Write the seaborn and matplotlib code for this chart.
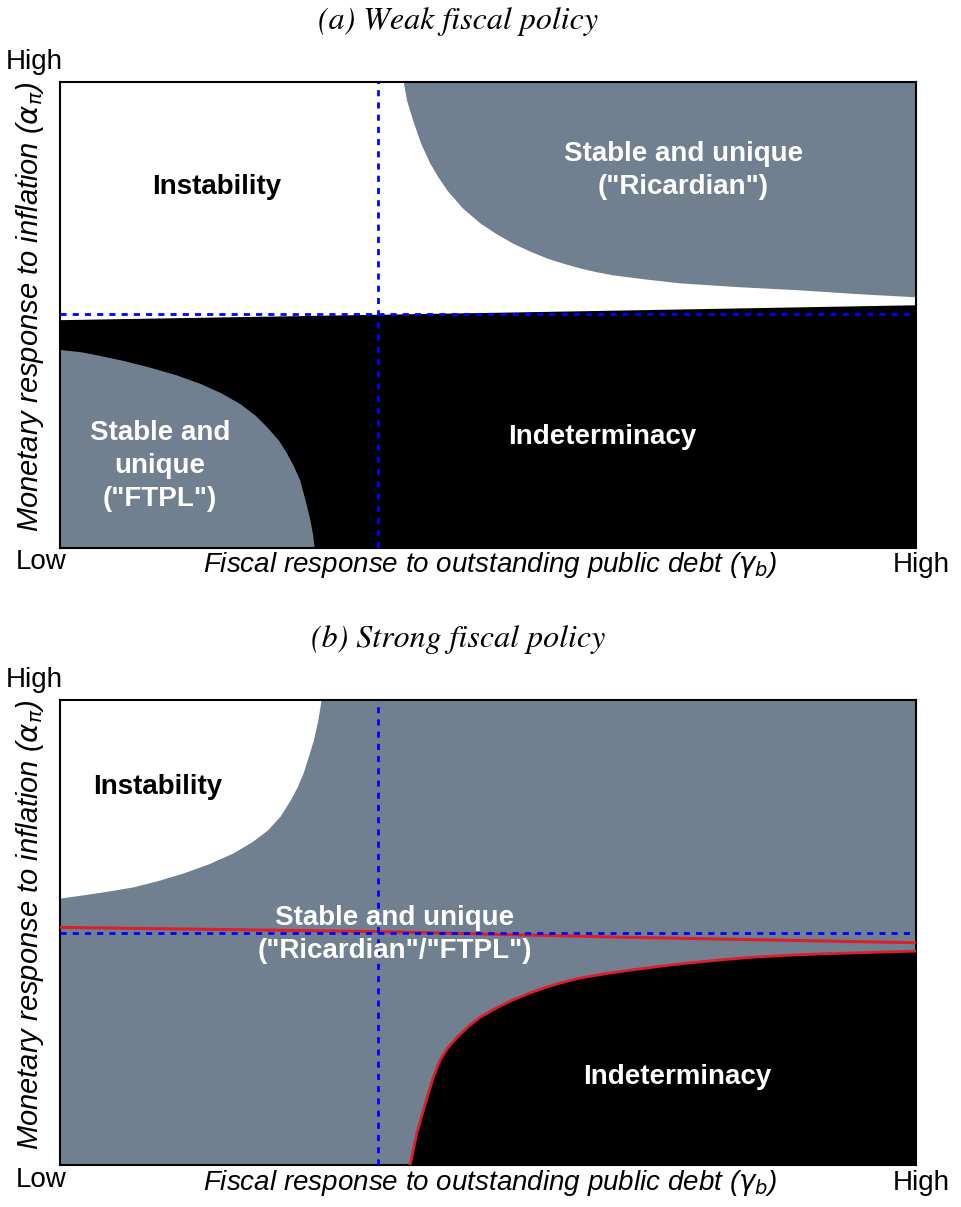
import matplotlib
matplotlib.use("Agg")
import matplotlib.pyplot as plt
import seaborn as sns

# ---- data (axes run 0..1, "Low" to "High") ----
# panel (a): weak fiscal policy
a_indet_top_x = [0.0, 0.514, 1.0]
a_indet_top_y = [0.490, 0.506, 0.522]

a_ftpl_x = [0.0, 0.025, 0.047, 0.075, 0.105, 0.135, 0.164, 0.188, 0.210, 0.228,
            0.242, 0.255, 0.265, 0.273, 0.280, 0.286, 0.292, 0.295, 0.297]
a_ftpl_y = [0.426, 0.421, 0.413, 0.402, 0.388, 0.372, 0.353, 0.333, 0.310, 0.285,
            0.259, 0.232, 0.203, 0.175, 0.146, 0.105, 0.060, 0.030, 0.0]

a_ric_x = [0.401, 0.405, 0.412, 0.421, 0.432, 0.442, 0.452, 0.470, 0.491, 0.510,
           0.529, 0.549, 0.569, 0.588, 0.607, 0.626, 0.646, 0.685, 0.724, 0.790,
           0.864, 0.930, 1.0]
a_ric_y = [1.0, 0.960, 0.918, 0.870, 0.826, 0.795, 0.768, 0.730, 0.697, 0.674,
           0.654, 0.637, 0.622, 0.611, 0.601, 0.593, 0.586, 0.577, 0.569, 0.561,
           0.554, 0.546, 0.539]

a_ref_x = 0.371
a_ref_y = 0.502

# panel (b): strong fiscal policy
b_inst_x = [0.0, 0.027, 0.056, 0.085, 0.115, 0.144, 0.174, 0.202, 0.224, 0.242,
            0.257, 0.269, 0.277, 0.284, 0.290, 0.296, 0.301, 0.305]
b_inst_y = [0.574, 0.581, 0.589, 0.598, 0.612, 0.628, 0.648, 0.671, 0.695, 0.720,
            0.750, 0.785, 0.813, 0.843, 0.878, 0.914, 0.955, 1.0]

b_indet_x = [0.409, 0.413, 0.417, 0.423, 0.429, 0.436, 0.444, 0.453, 0.464, 0.477,
             0.491, 0.510, 0.529, 0.549, 0.569, 0.588, 0.607, 0.636, 0.666, 0.699,
             0.732, 0.771, 0.810, 0.849, 0.888, 0.944, 1.0]
b_indet_y = [0.0, 0.035, 0.069, 0.108, 0.146, 0.188, 0.226, 0.252, 0.275, 0.298,
             0.318, 0.338, 0.355, 0.370, 0.383, 0.393, 0.402, 0.411, 0.419, 0.427,
             0.434, 0.441, 0.447, 0.451, 0.454, 0.457, 0.460]

b_red_x = [0.0, 0.371, 0.654, 1.0]
b_red_y = [0.511, 0.502, 0.490, 0.478]

b_ref_x = 0.371
b_ref_y = 0.499

GRAY = "#708090"
RED = "#dc1f2b"
W, H = 961, 1207

sns.set_theme(style="white")
plt.rcParams["font.family"] = ["Liberation Sans", "DejaVu Sans"]
plt.rcParams["text.color"] = "black"

fig = plt.figure(figsize=(W / 100, H / 100), dpi=100)
ax_a = fig.add_axes([60 / W, 1 - 548 / H, 856 / W, 466 / H])
ax_b = fig.add_axes([60 / W, 1 - 1165 / H, 856 / W, 465 / H])


def ftext(px, py, s, **kw):
    fig.text(px / W, 1 - py / H, s, ha="center", va="center", color="black", **kw)


def ref_lines(ax, rx, ry):
    ax.axvline(rx, color="blue", lw=2, dashes=(2.2, 2.2), zorder=5)
    ax.axhline(ry, color="blue", lw=2, dashes=(2.2, 2.2), zorder=5)


def region_label(ax, x, y, s, color):
    ax.text(x, y, s, ha="center", va="center", color=color, fontsize=20,
            fontweight="bold", linespacing=1.35, zorder=6)


for ax in (ax_a, ax_b):
    ax.set_xlim(0, 1)
    ax.set_ylim(0, 1)
    ax.set_xticks([])
    ax.set_yticks([])
    for sp in ax.spines.values():
        sp.set_color("black")
        sp.set_linewidth(1.5)

# ---- panel (a) ----
ax_a.set_facecolor("white")
ax_a.fill_between(a_indet_top_x, 0, a_indet_top_y, color="black", lw=0)
ax_a.fill_between(a_ftpl_x, 0, a_ftpl_y, color=GRAY, lw=0)
ax_a.fill_between(a_ric_x, a_ric_y, 1, color=GRAY, lw=0)
ref_lines(ax_a, a_ref_x, a_ref_y)
region_label(ax_a, 0.183, 0.775, "Instability", "black")
region_label(ax_a, 0.728, 0.811, 'Stable and unique\n("Ricardian")', "white")
region_label(ax_a, 0.117, 0.176, 'Stable and\nunique\n("FTPL")', "white")
region_label(ax_a, 0.634, 0.238, "Indeterminacy", "white")

# ---- panel (b) ----
ax_b.set_facecolor(GRAY)
ax_b.fill_between(b_inst_x, b_inst_y, 1, color="white", lw=0)
ax_b.fill_between(b_indet_x, 0, b_indet_y, color="black", lw=0)
sns.lineplot(x=b_indet_x, y=b_indet_y, ax=ax_b, color=RED, lw=2,
             sort=False, estimator=None, zorder=4)
sns.lineplot(x=b_red_x, y=b_red_y, ax=ax_b, color=RED, lw=2.2,
             sort=False, estimator=None, zorder=4)
ref_lines(ax_b, b_ref_x, b_ref_y)
region_label(ax_b, 0.114, 0.813, "Instability", "black")
region_label(ax_b, 0.391, 0.495, 'Stable and unique\n("Ricardian"/"FTPL")', "white")
region_label(ax_b, 0.721, 0.189, "Indeterminacy", "white")

# ---- titles and axis annotations ----
xlab = r"Fiscal response to outstanding public debt ($\gamma_b$)"
ylab = r"Monetary response to inflation ($\alpha_\pi$)"
for dy, title in ((0, "(a) Weak fiscal policy"), (618, "(b) Strong fiscal policy")):
    ftext(458, 22 + dy, title, fontsize=23, family="STIXGeneral", style="italic")
    ftext(34, 62 + dy, "High", fontsize=20)
    ftext(41, 562 + dy, "Low", fontsize=20)
    ftext(921, 565 + dy, "High", fontsize=20)
    ftext(490, 565 + dy, xlab, fontsize=20, style="italic")
    ftext(30, 307 + dy, ylab, fontsize=21, style="italic", rotation=90)

fig.savefig("out.png", dpi=100)
